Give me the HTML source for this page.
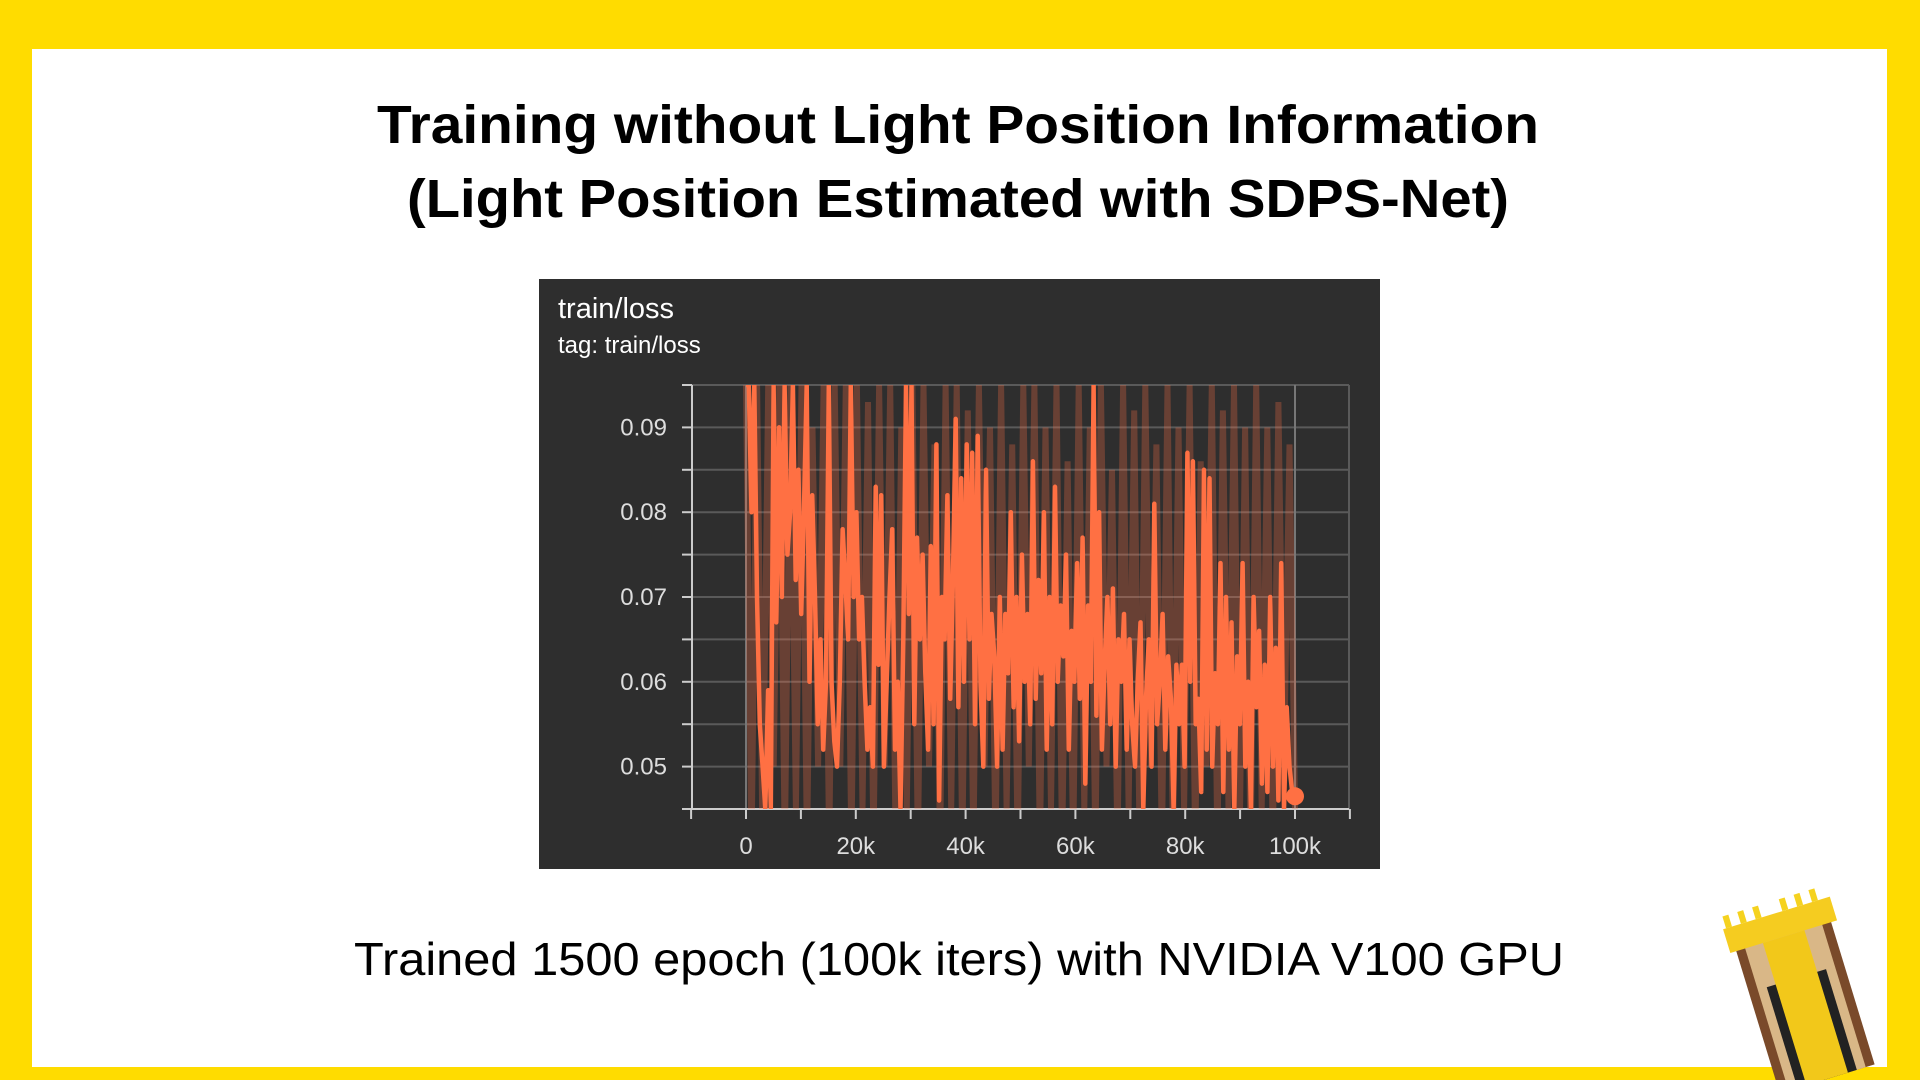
<!DOCTYPE html>
<html><head><meta charset="utf-8"><style>
html,body{margin:0;padding:0;width:1920px;height:1080px;overflow:hidden;background:#ffdc00;}
svg{display:block}
</style></head><body>
<svg width="1920" height="1080" viewBox="0 0 1920 1080">
<rect x="0" y="0" width="1920" height="1080" fill="#ffdc00"/>
<rect x="32" y="49" width="1855" height="1018" fill="#ffffff"/>
<g font-family="'Liberation Sans', sans-serif" font-weight="bold" font-size="54" fill="#000" text-anchor="middle">
<text x="958" y="143" textLength="1162" lengthAdjust="spacingAndGlyphs">Training without Light Position Information</text>
<text x="958" y="217" textLength="1102" lengthAdjust="spacingAndGlyphs">(Light Position Estimated with SDPS-Net)</text>
</g>
<rect x="539" y="279" width="841" height="590" fill="#2e2e2e"/>
<text x="558" y="318" font-family="'Liberation Sans', sans-serif" font-size="29" fill="#ffffff">train/loss</text>
<text x="558" y="353" font-family="'Liberation Sans', sans-serif" font-size="24" fill="#ffffff">tag: train/loss</text>
<g id="chart"></g>
<text x="959" y="975" text-anchor="middle" font-family="'Liberation Sans', sans-serif" font-size="46" fill="#000" textLength="1210" lengthAdjust="spacingAndGlyphs">Trained 1500 epoch (100k iters) with NVIDIA V100 GPU</text>
<g transform="translate(1800,990) rotate(-17) scale(0.62)">
<rect x="-80" y="-110" width="160" height="260" fill="#7a4a2a"/>
<rect x="-65" y="-100" width="130" height="250" fill="#d9b787"/>
<rect x="-50" y="-20" width="100" height="170" fill="#222"/>
<rect x="-35" y="-90" width="70" height="240" fill="#f2c81a"/>
<rect x="-90" y="-130" width="180" height="40" fill="#f5cc20"/>
<rect x="-85" y="-150" width="10" height="20" fill="#f5d21f"/><rect x="-60" y="-150" width="10" height="20" fill="#f5d21f"/><rect x="-35" y="-150" width="10" height="20" fill="#f5d21f"/><rect x="10" y="-150" width="10" height="20" fill="#f5d21f"/><rect x="35" y="-150" width="10" height="20" fill="#f5d21f"/><rect x="60" y="-150" width="10" height="20" fill="#f5d21f"/>
</g>
</svg>
<script>
const yTicks = [0.05, 0.06, 0.07, 0.08, 0.09];
const xTicks = [0, 20000, 40000, 60000, 80000, 100000];
const xTickLabels = ["0", "20k", "40k", "60k", "80k", "100k"];
const smoothed = [
0.095,0.095,0.08,0.095,0.07,0.055,0.05,0.045,0.059,0.045,
0.095,0.067,0.09,0.07,0.095,0.075,0.08,0.095,0.072,0.085,
0.068,0.08,0.095,0.06,0.082,0.07,0.055,0.065,0.052,0.06,
0.095,0.06,0.053,0.05,0.06,0.078,0.072,0.065,0.095,0.07,
0.08,0.065,0.07,0.06,0.052,0.057,0.05,0.083,0.062,0.082,
0.05,0.06,0.07,0.078,0.052,0.06,0.045,0.065,0.095,0.068,
0.095,0.055,0.077,0.065,0.075,0.061,0.052,0.076,0.055,0.088,
0.046,0.07,0.065,0.082,0.058,0.072,0.091,0.057,0.084,0.06,
0.088,0.065,0.087,0.055,0.089,0.06,0.05,0.085,0.058,0.068,
0.063,0.05,0.07,0.052,0.068,0.061,0.08,0.057,0.07,0.053,
0.075,0.06,0.068,0.055,0.086,0.058,0.072,0.061,0.08,0.052,
0.07,0.055,0.083,0.06,0.069,0.063,0.075,0.052,0.066,0.06,
0.074,0.058,0.077,0.048,0.069,0.06,0.095,0.056,0.08,0.052,
0.062,0.07,0.055,0.071,0.05,0.065,0.06,0.068,0.052,0.065,
0.055,0.05,0.06,0.067,0.045,0.058,0.065,0.05,0.081,0.055,
0.06,0.068,0.052,0.063,0.058,0.045,0.062,0.055,0.062,0.05,
0.087,0.06,0.086,0.055,0.058,0.047,0.085,0.052,0.084,0.05,
0.061,0.055,0.074,0.047,0.07,0.052,0.067,0.045,0.063,0.055,
0.074,0.05,0.06,0.045,0.07,0.057,0.066,0.048,0.062,0.047,
0.07,0.05,0.064,0.046,0.074,0.045,0.057,0.05,0.047,0.0465];
const raw = [
0.095,0.04,0.095,0.04,0.095,0.05,0.095,0.04,0.095,0.045,0.095,0.04,0.09,0.05,0.095,0.04,0.095,0.05,0.095,0.04,
0.095,0.045,0.093,0.04,0.095,0.05,0.095,0.04,0.09,0.045,0.095,0.04,0.095,0.05,0.088,0.04,0.095,0.045,0.095,0.04,
0.092,0.04,0.095,0.05,0.09,0.04,0.095,0.045,0.088,0.04,0.095,0.05,0.095,0.04,0.09,0.045,0.095,0.04,0.086,0.04,
0.095,0.045,0.09,0.04,0.095,0.05,0.085,0.04,0.095,0.045,0.092,0.04,0.095,0.05,0.088,0.04,0.095,0.04,0.09,0.045,
0.095,0.04,0.086,0.05,0.095,0.04,0.092,0.045,0.095,0.04,0.09,0.04,0.095,0.045,0.09,0.04,0.093,0.05,0.088,0.045];
const X0 = 746, X1 = 1295, YT = 385, YB = 809;
const yMin = 0.045, yMax = 0.095;
function xs(v){ return X0 + (v/100000)*(X1-X0); }
function ys(v){ return YB - (v-yMin)/(yMax-yMin)*(YB-YT); }
const NS = "http://www.w3.org/2000/svg";
const g = document.getElementById('chart');
function mk(tag, attrs){ const e=document.createElementNS(NS,tag); for(const k in attrs) e.setAttribute(k,attrs[k]); g.appendChild(e); return e; }
const defs = mk('defs',{});
const cp = document.createElementNS(NS,'clipPath'); cp.setAttribute('id','pc'); defs.appendChild(cp);
const cr = document.createElementNS(NS,'rect'); cr.setAttribute('x',692); cr.setAttribute('y',YT); cr.setAttribute('width',1349-692); cr.setAttribute('height',YB-YT); cp.appendChild(cr);
for(let k=0;k<=10;k++){
  const v = yMin + k*0.005;
  const l = mk('line',{x1:692,x2:1349,y1:ys(v),y2:ys(v),stroke:'#5a5a5a','stroke-width':2});
  
  
  const t = mk('line',{x1:682,x2:692,y1:ys(v),y2:ys(v),stroke:'#cccccc','stroke-width':2});
  
  
}
[0,100000].forEach(v=>{
  const l = mk('line',{x1:xs(v),x2:xs(v),y1:YT,y2:YB,stroke:'#777','stroke-width':2});
  
  
});
const rl = mk('line',{x1:1349,x2:1349,y1:YT,y2:YB,stroke:'#5a5a5a','stroke-width':2});


const ya = mk('line',{x1:692,x2:692,y1:YT,y2:YB,stroke:'#cccccc','stroke-width':2});


const xa = mk('line',{x1:692,x2:1349,y1:YB,y2:YB,stroke:'#cccccc','stroke-width':2});


for(let v=-10000; v<=110000; v+=10000){
  const x = xs(v); if(x>1350) break;
  const t = mk('line',{x1:x,x2:x,y1:YB,y2:YB+10,stroke:'#cccccc','stroke-width':2});
  
  
}
yTicks.forEach(v=>{
  const t = mk('text',{x:667,y:ys(v)+8,'text-anchor':'end','font-family':"'Liberation Sans', sans-serif",'font-size':24,fill:'#dddddd'});
  t.textContent = v.toFixed(2);
  
  
});
xTicks.forEach((v,i)=>{
  const t = mk('text',{x:xs(v),y:854,'text-anchor':'middle','font-family':"'Liberation Sans', sans-serif",'font-size':24,fill:'#dddddd'});
  t.textContent = xTickLabels[i];
  
  
});
const rp = raw.map((v,i)=>xs(i*100000/(raw.length-1)).toFixed(1)+','+ys(v).toFixed(1)).join(' ');
const rawLine = mk('polyline',{points:rp,fill:'none',stroke:'rgba(255,112,67,0.28)','stroke-width':6,'clip-path':'url(#pc)'});


const sp = smoothed.map((v,i)=>xs(i*100000/(smoothed.length-1)).toFixed(1)+','+ys(v).toFixed(1)).join(' ');
const sl = mk('polyline',{points:sp,fill:'none',stroke:'#ff7043','stroke-width':4.5,'stroke-linejoin':'round','clip-path':'url(#pc)'});


const last = smoothed[smoothed.length-1];
const dot = mk('circle',{cx:xs(100000),cy:ys(last),r:9,fill:'#ff7043'});


</script>
</body></html>
